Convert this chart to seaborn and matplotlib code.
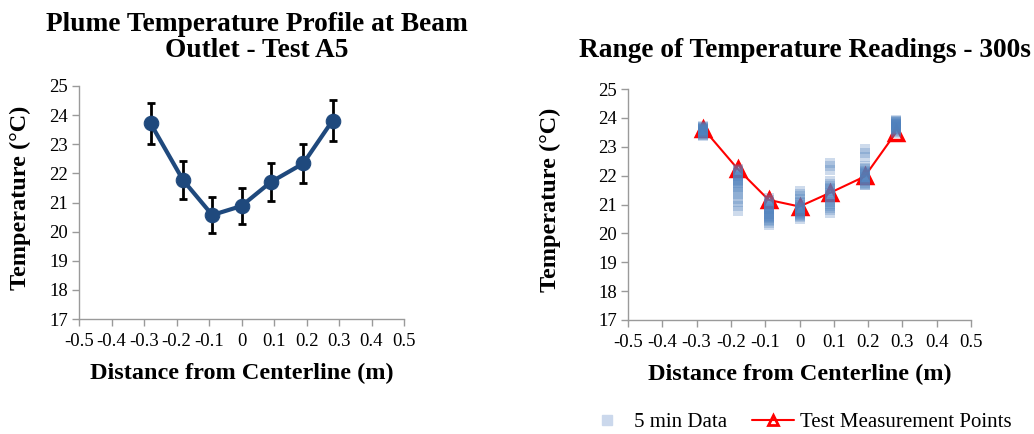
import matplotlib
matplotlib.use("Agg")
import matplotlib.pyplot as plt
import seaborn as sns
import pandas as pd
from matplotlib.lines import Line2D

sns.set_theme(style="white")
plt.rcParams['font.family'] = ['Liberation Serif', 'DejaVu Serif']
plt.rcParams['axes.unicode_minus'] = False
plt.rcParams['text.color'] = 'black'
plt.rcParams['axes.labelcolor'] = 'black'
plt.rcParams['xtick.color'] = 'black'
plt.rcParams['ytick.color'] = 'black'

# ---- data ----
positions = [-0.28, -0.18, -0.09, 0.0, 0.09, 0.19, 0.28]
profile_temp = [23.72, 21.77, 20.57, 20.88, 21.70, 22.34, 23.81]
profile_err = [0.71, 0.65, 0.62, 0.63, 0.65, 0.67, 0.71]

test_points = [23.62, 22.23, 21.16, 20.93, 21.41, 21.97, 23.47]

data_m028 = [23.72, 23.70, 23.68, 23.66, 23.65, 23.63, 23.62, 23.60, 23.58, 23.57,
             23.55, 23.53, 23.52, 23.50, 23.48, 23.46, 23.44, 23.42, 23.40, 23.37]
data_m018 = [22.23, 22.20, 22.15, 22.10, 22.05, 22.00, 21.95, 21.90, 21.85, 21.80,
             21.75, 21.70, 21.62, 21.55, 21.45, 21.35, 21.20, 21.10, 20.95, 20.78]
data_m009 = [21.24, 21.15, 21.08, 21.02, 20.98, 20.93, 20.88, 20.84, 20.80, 20.76,
             20.72, 20.68, 20.64, 20.60, 20.56, 20.52, 20.48, 20.42, 20.35, 20.28]
data_000 = [21.47, 21.38, 21.28, 21.18, 21.10, 21.04, 21.00, 20.96, 20.92, 20.88,
            20.85, 20.82, 20.78, 20.75, 20.72, 20.68, 20.64, 20.60, 20.56, 20.51]
data_p009 = [22.43, 22.32, 22.20, 21.80, 21.72, 21.65, 21.58, 21.52, 21.46, 21.40,
             21.34, 21.28, 21.22, 21.16, 21.10, 21.02, 20.95, 20.88, 20.80, 20.72]
data_p019 = [22.91, 22.80, 22.64, 22.34, 22.28, 22.22, 22.17, 22.12, 22.08, 22.04,
             22.00, 21.96, 21.92, 21.88, 21.84, 21.80, 21.76, 21.72, 21.69, 21.66]
data_p028 = [23.92, 23.90, 23.88, 23.86, 23.84, 23.82, 23.80, 23.78, 23.76, 23.74,
             23.72, 23.70, 23.68, 23.66, 23.63, 23.60, 23.57, 23.54, 23.51, 23.49]

x_ticks = [-0.5, -0.4, -0.3, -0.2, -0.1, 0.0, 0.1, 0.2, 0.3, 0.4, 0.5]
x_tick_labels = ["-0.5", "-0.4", "-0.3", "-0.2", "-0.1", "0", "0.1", "0.2", "0.3", "0.4", "0.5"]
y_ticks = [17, 18, 19, 20, 21, 22, 23, 24, 25]

# ---- frames ----
df_profile = pd.DataFrame({"x": positions, "T": profile_temp, "err": profile_err})
df_test = pd.DataFrame({"x": positions, "T": test_points})
cols = [data_m028, data_m018, data_m009, data_000, data_p009, data_p019, data_p028]
rows = []
for xp, vals in zip(positions, cols):
    for v in vals:
        rows.append((xp, v))
df_5min = pd.DataFrame(rows, columns=["x", "T"])

W, H = 1034, 434
fig = plt.figure(figsize=(W / 100, H / 100), dpi=100)
ax1 = fig.add_axes([79 / W, 1 - 319 / H, 325 / W, 233 / H])
ax2 = fig.add_axes([628 / W, 1 - 320 / H, 343 / W, 231 / H])

spine_c = "#9a9a9a"
tick_fs = 13.5
lab_fs = 17.5
title_fs = 19.7

def style_axes(ax, ylab_x):
    ax.set_xlim(-0.5, 0.5)
    ax.set_ylim(17, 25)
    ax.set_xticks(x_ticks)
    ax.set_xticklabels(x_tick_labels, fontsize=tick_fs, color="black")
    ax.set_yticks(y_ticks)
    ax.set_yticklabels([str(v) for v in y_ticks], fontsize=tick_fs, color="black")
    for s in ["top", "right"]:
        ax.spines[s].set_visible(False)
    for s in ["left", "bottom"]:
        ax.spines[s].set_color(spine_c)
        ax.spines[s].set_linewidth(1.0)
    ax.tick_params(axis="both", which="major", direction="out", length=5,
                   width=1.0, color=spine_c, labelcolor="black", left=True, bottom=True)
    ax.tick_params(axis="x", pad=5)
    ax.tick_params(axis="y", pad=3)
    ax.grid(False)
    ax.set_xlabel("Distance from Centerline (m)", fontsize=lab_fs, fontweight="bold",
                  labelpad=9, color="black")
    ax.set_ylabel("Temperature (°C)", fontsize=lab_fs, fontweight="bold", color="black")
    ax.yaxis.set_label_coords(ylab_x, 0.52)

# ---- left chart ----
ax1.errorbar(df_profile["x"], df_profile["T"], yerr=df_profile["err"], fmt="none",
             ecolor="black", elinewidth=2.0, capsize=3, capthick=2.0, zorder=2)
sns.lineplot(data=df_profile, x="x", y="T", ax=ax1, color="#1f497d", linewidth=3.0,
             marker="o", markersize=10.5, markeredgecolor="#1f497d", zorder=3, sort=False)
style_axes(ax1, (31 - 79) / 325)
fig.text(257 / W, 1 - 31 / H, "Plume Temperature Profile at Beam", ha="center",
         va="baseline", fontsize=title_fs, fontweight="bold", color="black")
fig.text(257 / W, 1 - 57 / H, "Outlet - Test A5", ha="center",
         va="baseline", fontsize=title_fs, fontweight="bold", color="black")

# ---- right chart ----
sns.lineplot(data=df_test, x="x", y="T", ax=ax2, color="#ff0000", linewidth=1.5,
             marker="^", markersize=9.5, markerfacecolor="none", markeredgecolor="#ff0000",
             markeredgewidth=2.5, zorder=2, sort=False)
sns.scatterplot(data=df_5min, x="x", y="T", ax=ax2, marker="s", s=48, color="#4f81bd",
                alpha=0.28, linewidth=0, zorder=3)
style_axes(ax2, (561 - 628) / 343)
fig.text(805 / W, 1 - 57 / H, "Range of Temperature Readings - 300s", ha="center",
         va="baseline", fontsize=title_fs, fontweight="bold", color="black")

handles = [
    Line2D([], [], linestyle="none", marker="s", markersize=6.8, markerfacecolor="#cbd8ec",
           markeredgecolor="#cbd8ec"),
    Line2D([], [], color="#ff0000", linewidth=1.5, marker="^", markersize=7,
           markerfacecolor="none", markeredgecolor="#ff0000", markeredgewidth=2),
]
leg = fig.legend(handles, ["5 min Data", "Test Measurement Points"], loc="center",
                 bbox_to_anchor=(799 / W, 1 - 422 / H), ncol=2, frameon=False, fontsize=15,
                 handlelength=2.0, columnspacing=1.2, handletextpad=0.3)
for t in leg.get_texts():
    t.set_color("black")

fig.savefig("out.png", dpi=100)
